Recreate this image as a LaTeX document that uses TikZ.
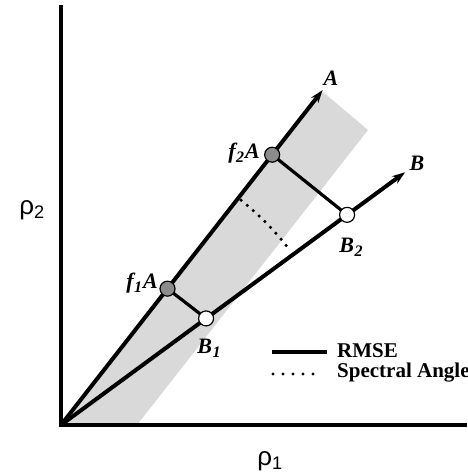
\documentclass[tikz,border=0pt]{standalone}
\usepackage{fontspec}
\setmainfont{Liberation Serif}
\newfontfamily\rhofont{Liberation Sans}
\usetikzlibrary{arrows.meta,calc}
\newcommand{\lsub}[1]{\kern0.5pt\raisebox{-4pt}{\fontsize{16}{16}\selectfont #1}}
\begin{document}
\begin{tikzpicture}[x=1pt,y=1pt,
  axis/.style={line width=3.5pt},
  vec/.style={line width=4pt,-{Stealth[length=13pt,width=9pt]}},
  rmse/.style={line width=3.2pt},
  sangle/.style={line width=3.5pt,line cap=round,dash pattern=on 0pt off 8pt},
  fpt/.style={circle,draw,line width=1.2pt,fill=black!45,minimum size=15pt,inner sep=0pt},
  bpt/.style={circle,draw,line width=1.2pt,fill=white,minimum size=15pt,inner sep=0pt},
  lbl/.style={font=\fontsize{22}{26}\selectfont\bfseries\itshape,inner sep=0pt},
  leg/.style={font=\fontsize{21}{25}\selectfont\bfseries,inner sep=0pt,anchor=west},
  rho/.style={font=\fontsize{26}{30}\selectfont\rhofont,inner sep=0pt}]
\useasboundingbox (0,0) rectangle (467,472);
\coordinate (O) at (61,47);
% grey band
\fill[black!15] (61,47) -- (137,47) -- (368,342) -- (323,380) -- cycle;
% axes
\coordinate (Ytop) at (61,467);
\coordinate (Xend) at (467,47);
\draw[axis] (Ytop) -- (O) -- (Xend);
% points
\path (O) ++(52:173) coordinate (f1c);
\path (O) ++(52:343) coordinate (f2c);
\path (O) ++(36.3:180) coordinate (b1c);
\path (O) ++(36.3:355) coordinate (b2c);
\path (O) ++(52:425) coordinate (Atip);
\path (O) ++(36.3:427) coordinate (Btip);
% vectors
\draw[vec] (O) -- (Atip);
\draw[vec] (O) -- (Btip);
% rmse
\draw[rmse] (f1c) -- (b1c);
\draw[rmse] (f2c) -- (b2c);
% spectral angle arc
\draw[sangle] ($(O)+(51.3:288)$) arc[start angle=51.3,end angle=38.3,radius=288];
% nodes
\node[fpt] (f1) at (f1c) {};
\node[fpt] (f2) at (f2c) {};
\node[bpt] (b1) at (b1c) {};
\node[bpt] (b2) at (b2c) {};
% labels
\node[lbl] (lA) at (331,394) {A};
\node[lbl] (lB) at (417,309) {B};
\node[lbl,anchor=east] (lf2) at (260,319) {f\lsub{2}\kern1pt A};
\node[lbl,anchor=east] (lf1) at (158,189) {f\lsub{1}\kern1pt A};
\node[lbl] (lb1) at (209,124) {B\lsub{1}};
\node[lbl] (lb2) at (351,225) {B\lsub{2}};
% legend
\coordinate (l1a) at (272,120);
\coordinate (l1b) at (327,120);
\coordinate (l2a) at (273,98);
\coordinate (l2b) at (323,98);
\draw[rmse] (l1a) -- (l1b);
\draw[line width=3.2pt,line cap=round,dash pattern=on 0pt off 10pt] (l2a) -- (l2b);
\node[leg] (t1) at (337,121) {RMSE};
\node[leg] (t2) at (337,99) {Spectral Angle};
% axis labels
\node[rho] (r2) at (32,262) {ρ\textsubscript{2}};
\node[rho] (r1) at (270,11) {ρ\textsubscript{1}};
\end{tikzpicture}
\end{document}
